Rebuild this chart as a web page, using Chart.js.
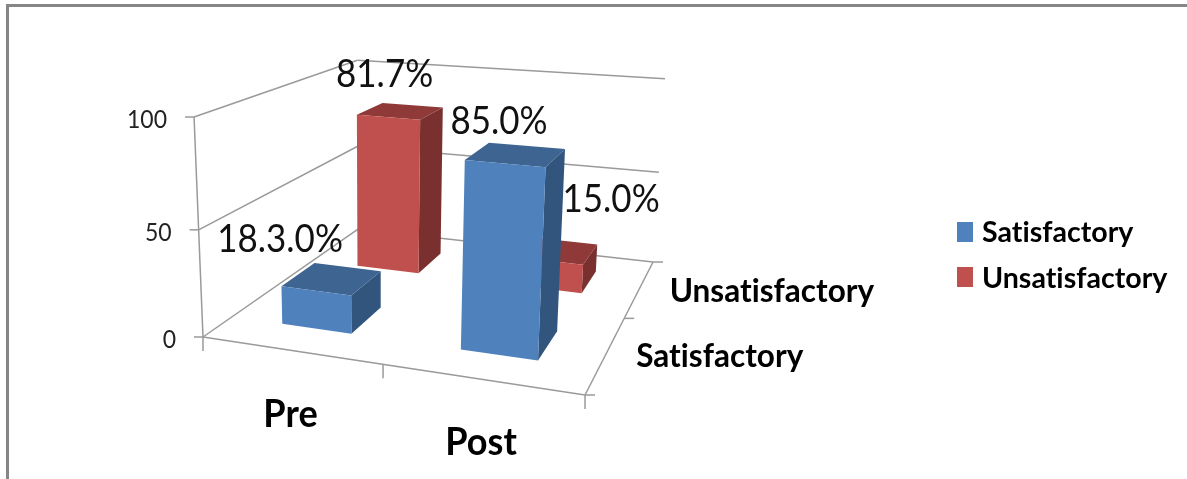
<!DOCTYPE html>
<html>
<head>
<meta charset="utf-8">
<title>Pre and post satisfaction</title>
<script src="https://cdn.jsdelivr.net/npm/chart.js@4/dist/chart.umd.min.js"></script>
<style>
  html, body { margin: 0; padding: 0; background: #fff; }
  canvas { display: block; }
</style>
</head>
<body>
<canvas id="chart" width="1187" height="479"></canvas>
<script>
const categories = ['Pre', 'Post'];
const depthCategories = ['Satisfactory', 'Unsatisfactory'];
const satisfactoryValues = [18.3, 85.0];
const unsatisfactoryValues = [81.7, 15.0];
const satisfactoryLabels = ['18.3.0%', '85.0%'];
const unsatisfactoryLabels = ['81.7%', '15.0%'];

// Nudges of each value label away from the centre of its bar's top face.
const satisfactoryLabelNudge = [[-52, -39], [-17, -33]];
const unsatisfactoryLabelNudge = [[-16, -36], [54, -51]];

const FONT = 'Lato, "Open Sans", sans-serif';
const GRID = '#9a9a9a';
const BAR_SIZE = 0.2;   // bar footprint as a share of the floor, in both directions

// Shades of the three visible faces of a bar in each series.
const faceColors = {
  Satisfactory: { front: '#4f81bd', top: '#3e6592', side: '#32557e' },
  Unsatisfactory: { front: '#c0504d', top: '#8f3a38', side: '#7a302e' }
};

// Perspective camera: maps (across, up, depth), each 0..1, to canvas pixels.
const CAMERA = {
  x: [318.5, -18.6, 269.6, 203],
  y: [15.1, -225.8, -34.7, 337],
  w: [-0.1086, -0.0497, 0.32, 1]
};
function project(u, v, d) {
  const dot = r => r[0] * u + r[1] * v + r[2] * d + r[3];
  const w = dot(CAMERA.w);
  return { x: dot(CAMERA.x) / w, y: dot(CAMERA.y) / w };
}

// Normalised position along a scale, from the scale's own pixel mapping.
const across = (chart, i) => (chart.scales.x.getPixelForValue(i) - chart.scales.x.left) / chart.scales.x.width;
const deep = (chart, i) => (chart.scales.depth.getPixelForValue(i) - chart.scales.depth.left) / chart.scales.depth.width;
const up = (chart, value) => (chart.scales.y.bottom - chart.scales.y.getPixelForValue(value)) / chart.scales.y.height;

function polygon(ctx, pts, fill) {
  ctx.beginPath();
  pts.forEach((p, i) => (i ? ctx.lineTo(p.x, p.y) : ctx.moveTo(p.x, p.y)));
  ctx.closePath();
  ctx.fillStyle = fill;
  ctx.fill();
}

function segment(ctx, a, b) {
  ctx.beginPath();
  ctx.moveTo(a.x, a.y);
  ctx.lineTo(b.x, b.y);
  ctx.stroke();
}

// Draws text narrowed by `squeeze`, which gives Lato a taller, Calibri-like build.
function label(ctx, text, x, y, font, color, align, squeeze = 1) {
  ctx.font = font;
  ctx.fillStyle = color;
  ctx.textAlign = align;
  ctx.textBaseline = 'middle';
  ctx.fillText(text, x, y, ctx.measureText(text).width * squeeze);
}

function drawFrame(ctx, chart) {
  ctx.fillStyle = '#868686';
  ctx.fillRect(6, 4, chart.width - 6, 3);
  ctx.fillRect(6, 4, 3, chart.height - 4);
}

function drawWalls(ctx, chart) {
  ctx.save();
  ctx.strokeStyle = GRID;
  ctx.lineWidth = 1.5;
  chart.scales.y.ticks.forEach(t => {
    const v = up(chart, t.value);
    const front = project(0, v, 0), back = project(0, v, 1), right = project(1, v, 1);
    segment(ctx, front, back);
    segment(ctx, back, right);
    segment(ctx, front, { x: front.x - 9, y: front.y });
    label(ctx, String(t.value), front.x - 27, front.y + 3, '25px ' + FONT, '#222', 'right', 0.92);
  });
  segment(ctx, project(0, 0, 0), project(0, 1, 0));
  segment(ctx, project(0, 0, 0), project(1, 0, 0));
  segment(ctx, project(1, 0, 0), project(1, 0, 1));
  [0, 0.5, 1].forEach(t => {
    const a = project(t, 0, 0);
    segment(ctx, a, { x: a.x, y: a.y + 14 });
    const b = project(1, 0, t);
    segment(ctx, b, { x: b.x + 10, y: b.y });
  });
  ctx.restore();
}

function drawBar(ctx, chart, value, catIndex, depthIndex, colors) {
  const u = across(chart, catIndex), d = deep(chart, depthIndex), v = up(chart, value);
  const h = BAR_SIZE / 2;
  const p = (a, b, c) => project(u + a * h, b, d + c * h);
  polygon(ctx, [p(1, 0, -1), p(1, 0, 1), p(1, v, 1), p(1, v, -1)], colors.side);
  polygon(ctx, [p(-1, v, -1), p(1, v, -1), p(1, v, 1), p(-1, v, 1)], colors.top);
  polygon(ctx, [p(-1, 0, -1), p(1, 0, -1), p(1, v, -1), p(-1, v, -1)], colors.front);
}

function drawLegend(ctx, chart) {
  chart.data.datasets.forEach((ds, i) => {
    const y = 232 + i * 45;
    ctx.fillStyle = ds.backgroundColor;
    ctx.fillRect(957, y - 10, 16, 20);
    label(ctx, ds.label, 982, y + 1 + i, 'bold 29px ' + FONT, '#000', 'left', 0.985);
  });
}

const sceneRows = [
  { values: unsatisfactoryValues, texts: unsatisfactoryLabels, nudges: unsatisfactoryLabelNudge, depth: 1, colors: faceColors.Unsatisfactory },
  { values: satisfactoryValues, texts: satisfactoryLabels, nudges: satisfactoryLabelNudge, depth: 0, colors: faceColors.Satisfactory }
];

const scenePlugin = {
  id: 'scene',
  beforeDraw(chart) {
    // A tiny letter spacing switches off Lato's "ti" and "fi" ligatures.
    chart.ctx.letterSpacing = '0.01px';
    drawFrame(chart.ctx, chart);
  },
  // The datasets are rendered as prisms below rather than as flat rectangles.
  beforeDatasetDraw() {
    return false;
  },
  beforeDatasetsDraw(chart) {
    const ctx = chart.ctx;
    drawWalls(ctx, chart);
    sceneRows.forEach(row => row.values.forEach((value, i) => drawBar(ctx, chart, value, i, row.depth, row.colors)));
  },
  afterDatasetsDraw(chart) {
    const ctx = chart.ctx;
    sceneRows.forEach(row => row.texts.forEach((text, i) => {
      const c = project(across(chart, i), up(chart, row.values[i]), deep(chart, row.depth));
      label(ctx, text, c.x + row.nudges[i][0], c.y + row.nudges[i][1], '38px ' + FONT, '#111', 'center', 0.92);
    }));
    categories.forEach((name, i) => {
      const a = project(across(chart, i), 0, 0);
      label(ctx, name, a.x, a.y + 64, 'bold 38px ' + FONT, '#000', 'center', 0.95);
    });
    depthCategories.forEach((name, i) => {
      const a = project(1, 0, deep(chart, i));
      label(ctx, name, a.x + 30, a.y + 3, 'bold 33px ' + FONT, '#000', 'left', 0.955);
    });
    drawLegend(ctx, chart);
  }
};

new Chart(document.getElementById('chart'), {
  type: 'bar',
  data: {
    labels: categories,
    datasets: [
      { label: depthCategories[0], data: satisfactoryValues, backgroundColor: faceColors.Satisfactory.front, borderWidth: 0 },
      { label: depthCategories[1], data: unsatisfactoryValues, backgroundColor: faceColors.Unsatisfactory.front, borderWidth: 0 }
    ]
  },
  plugins: [scenePlugin],
  options: {
    responsive: false,
    animation: false,
    scales: {
      x: { type: 'category', display: false, offset: true },
      depth: { type: 'category', axis: 'x', labels: depthCategories, display: false, offset: true },
      y: { type: 'linear', display: false, min: 0, max: 100, ticks: { stepSize: 50 } }
    },
    plugins: {
      tooltip: { enabled: false },
      legend: { display: false }
    }
  }
});
</script>
</body>
</html>
